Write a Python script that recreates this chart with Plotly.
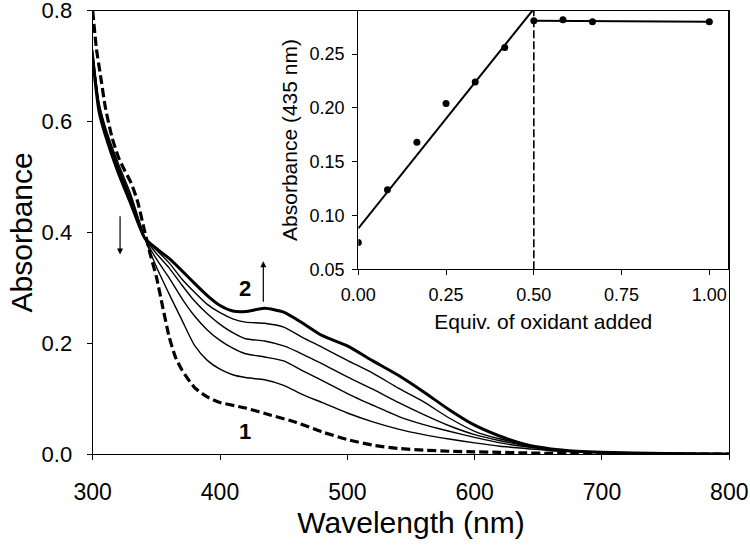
import plotly.graph_objects as go

# ---------------- data ----------------
wavelength = [300, 305, 310, 320, 330, 341, 350, 360, 370, 380, 390, 400, 410, 420, 435,
              450, 465, 480, 500, 520, 540, 560, 580, 600, 620, 640, 660, 680, 700, 750, 800]

spec_final = [0.712, 0.618, 0.575, 0.508, 0.451, 0.389, 0.371, 0.353, 0.331, 0.308, 0.286,
              0.268, 0.258, 0.257, 0.263, 0.256, 0.236, 0.214, 0.195, 0.168, 0.142, 0.112,
              0.080, 0.052, 0.032, 0.017, 0.009, 0.005, 0.003, 0.001, 0.0]
spec_a = [0.715, 0.622, 0.578, 0.512, 0.455, 0.389, 0.368, 0.345, 0.316, 0.292, 0.270,
          0.255, 0.244, 0.238, 0.236, 0.229, 0.210, 0.193, 0.169, 0.146, 0.119, 0.094,
          0.065, 0.041, 0.027, 0.017, 0.009, 0.005, 0.003, 0.001, 0.0]
spec_b = [0.720, 0.626, 0.581, 0.516, 0.459, 0.389, 0.362, 0.336, 0.305, 0.276, 0.253,
          0.234, 0.219, 0.208, 0.204, 0.195, 0.180, 0.163, 0.139, 0.117, 0.093, 0.071,
          0.051, 0.035, 0.024, 0.015, 0.008, 0.005, 0.003, 0.001, 0.0]
spec_c = [0.725, 0.630, 0.585, 0.520, 0.463, 0.389, 0.352, 0.318, 0.281, 0.249, 0.224,
          0.205, 0.191, 0.181, 0.175, 0.168, 0.150, 0.133, 0.109, 0.088, 0.068, 0.053,
          0.041, 0.030, 0.020, 0.013, 0.008, 0.005, 0.003, 0.001, 0.0]
spec_d = [0.730, 0.634, 0.590, 0.525, 0.468, 0.389, 0.338, 0.289, 0.242, 0.196, 0.169,
          0.153, 0.143, 0.138, 0.134, 0.124, 0.107, 0.093, 0.074, 0.058, 0.045, 0.035,
          0.027, 0.020, 0.014, 0.010, 0.006, 0.004, 0.002, 0.001, 0.0]

wavelength_start = [300, 303, 306, 310, 315, 320, 325, 330, 335, 340, 345, 350, 355, 360,
                    365, 370, 380, 390, 400, 420, 440, 460, 480, 500, 520, 540, 560, 580,
                    600, 620, 640, 660, 680, 700, 750, 800]
spec_start = [0.800, 0.730, 0.685, 0.625, 0.573, 0.537, 0.512, 0.490, 0.458, 0.410, 0.362,
              0.320, 0.265, 0.212, 0.175, 0.152, 0.120, 0.103, 0.093, 0.083, 0.070, 0.057,
              0.040, 0.026, 0.016, 0.010, 0.007, 0.005, 0.004, 0.003, 0.002, 0.001, 0.001,
              0.0, 0.0, 0.0]

equiv = [0.0, 0.083, 0.167, 0.25, 0.333, 0.417, 0.5, 0.583, 0.667, 1.0]
abs435 = [0.075, 0.124, 0.168, 0.204, 0.224, 0.256, 0.281, 0.282, 0.280, 0.280]

fit_rise_x = [0.0, 0.5]
fit_rise_y = [0.088, 0.292]
fit_flat_x = [0.5, 1.0]
fit_flat_y = [0.281, 0.280]
endpoint_x = [0.5, 0.5]
endpoint_y = [0.05, 0.2903]

x_ticks = [300, 400, 500, 600, 700, 800]
y_ticks = [0.0, 0.2, 0.4, 0.6, 0.8]
inset_x_ticks = [0.0, 0.25, 0.5, 0.75, 1.0]
inset_y_ticks = [0.05, 0.10, 0.15, 0.20, 0.25]

FONT = "Liberation Sans, Arial, sans-serif"

fig = go.Figure()

thin = dict(color="black", width=1.4)
for ys in [spec_d, spec_c, spec_b, spec_a]:
    fig.add_trace(go.Scatter(x=wavelength, y=ys, mode="lines",
                             line=dict(**thin, shape="spline", smoothing=0.6),
                             showlegend=False, hoverinfo="skip"))
fig.add_trace(go.Scatter(x=wavelength, y=spec_final, mode="lines",
                         line=dict(color="black", width=3, shape="spline", smoothing=0.6),
                         showlegend=False))
fig.add_trace(go.Scatter(x=wavelength_start, y=spec_start, mode="lines",
                         line=dict(color="black", width=3.2, dash="9px,4px", shape="spline", smoothing=0.6),
                         showlegend=False))

# inset
fig.add_trace(go.Scatter(x=endpoint_x, y=endpoint_y, mode="lines", xaxis="x2", yaxis="y2",
                         line=dict(color="black", width=1.6, dash="8px,3px"), showlegend=False))
fig.add_trace(go.Scatter(x=fit_rise_x, y=fit_rise_y, mode="lines", xaxis="x2", yaxis="y2",
                         line=dict(color="black", width=2), showlegend=False))
fig.add_trace(go.Scatter(x=fit_flat_x, y=fit_flat_y, mode="lines", xaxis="x2", yaxis="y2",
                         line=dict(color="black", width=2), showlegend=False))
fig.add_trace(go.Scatter(x=equiv, y=abs435, mode="markers", xaxis="x2", yaxis="y2",
                         marker=dict(color="black", size=7), showlegend=False))

axis_common = dict(showline=True, linecolor="black", linewidth=1.3, mirror=True,
                   ticks="outside", ticklen=5, tickcolor="black", tickwidth=1.3,
                   showgrid=False, zeroline=False, automargin=False,
                   ticklabeloverflow="allow")

fig.update_layout(
    width=750, height=546,
    margin=dict(l=0, r=0, t=0, b=0, autoexpand=False),
    paper_bgcolor="white", plot_bgcolor="rgba(0,0,0,0)",
    font=dict(family=FONT, color="black"),
    xaxis=dict(domain=[92.7 / 750, 729.3 / 750], range=[300, 800], tickvals=x_ticks,
               tickfont=dict(size=23), ticklabelstandoff=12,
               title=dict(text="Wavelength (nm)", font=dict(size=30), standoff=8),
               **axis_common),
    yaxis=dict(domain=[92 / 546, 535.3 / 546], range=[0, 0.8001], tickvals=y_ticks, tickformat=".1f",
               tickfont=dict(size=22), ticklabelstandoff=10,
               title=dict(text="Absorbance", font=dict(size=30), standoff=0),
               **axis_common),
    xaxis2=dict(domain=[358.3 / 750, 728.3 / 750], range=[0, 1.054], tickvals=inset_x_ticks,
                tickformat=".2f", tickfont=dict(size=18), anchor="y2", ticklabelstandoff=4,
                title=dict(text="Equiv. of oxidant added", font=dict(size=21), standoff=10),
                **axis_common),
    yaxis2=dict(domain=[(546 - 269.3) / 546, 535.3 / 546], range=[0.05, 0.2903],
                tickvals=inset_y_ticks, tickformat=".2f", tickfont=dict(size=18), anchor="x2",
                ticklabelstandoff=4,
                title=dict(text="Absorbance (435 nm)", font=dict(size=21), standoff=6),
                **axis_common),
    annotations=[
        dict(x=321.5, y=0.36, ax=321.5, ay=0.432, xref="x", yref="y", axref="x", ayref="y",
             text="", showarrow=True, arrowhead=2, arrowsize=1, arrowwidth=1.2, arrowcolor="black"),
        dict(x=434, y=0.348, ax=434, ay=0.272, xref="x", yref="y", axref="x", ayref="y",
             text="", showarrow=True, arrowhead=2, arrowsize=1, arrowwidth=1.2, arrowcolor="black"),
        dict(x=419.6, y=0.299, xref="x", yref="y", text="<b>2</b>", showarrow=False,
             font=dict(size=22, family=FONT)),
        dict(x=419.6, y=0.04, xref="x", yref="y", text="<b>1</b>", showarrow=False,
             font=dict(size=22, family=FONT)),
    ],
)

fig.write_html("out.html", config={"displayModeBar": False},
               post_script="document.body.style.margin='0px';")
